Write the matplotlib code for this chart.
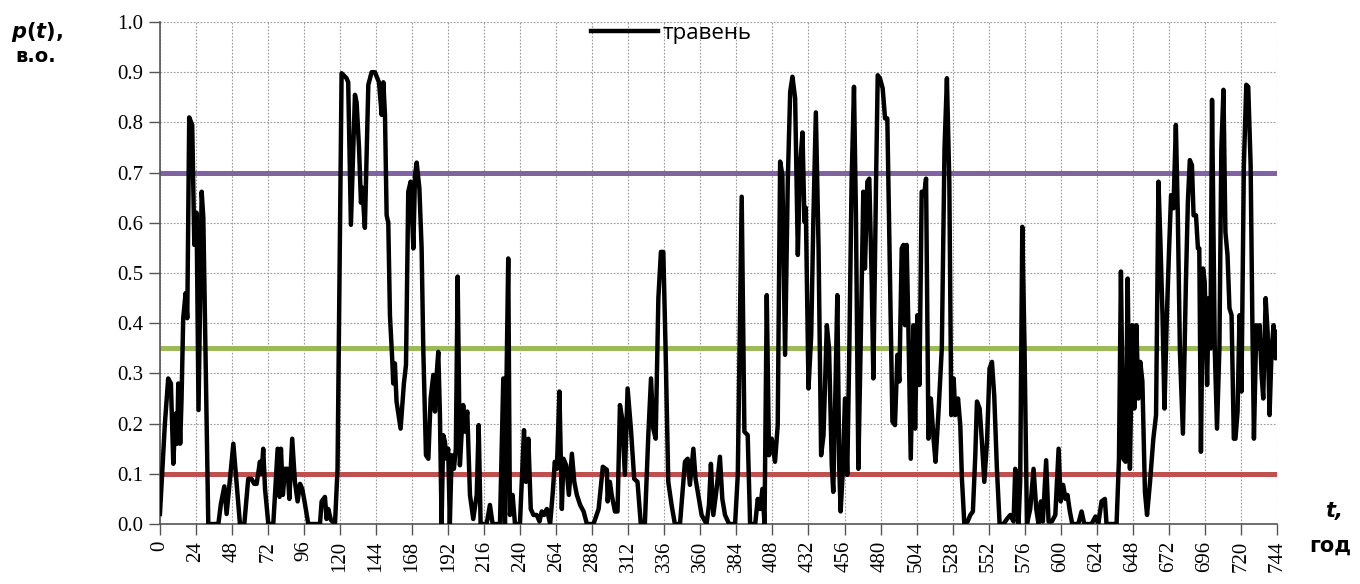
import matplotlib.pyplot as plt
import numpy as np

# hours of May and probability p(t)
t = [0, 3.3, 5.5, 7.3, 8.9, 10.4, 11.5, 12.2, 13.5, 14.4, 15.5, 17.1, 18.2, 19.5, 21.5, 22.9,
     24.4, 25.7, 27.8, 28.9, 32.2, 38.9, 40.6, 42.9, 44.4, 48.9, 51.1, 53.3, 56.2, 58.8, 61,
     62.8, 64.4, 66.6, 67.7, 68.8, 70, 72.2, 75.5, 78.4, 79.7, 80.6, 81.9, 83.3, 85, 86.2,
     88.1, 89.9, 91.7, 93.3, 94.8, 96.6, 98.8, 106.6, 107.7, 109.9, 111, 112.1, 113.9, 116.6,
     118.3, 121, 124.3, 125.4, 127.2, 129.9, 131, 132.6, 133.9, 134.8, 136.5, 138.8, 141,
     143.2, 145.9, 147.7, 148.8, 149.9, 151, 152.1, 153.2, 154.8, 155.4, 156.5, 157.6, 160.3,
     162.5, 163.9, 165.4, 167, 168.8, 169.9, 171, 172.8, 174.3, 175.4, 177.2, 178.8, 180.3,
     182.1, 183.2, 184.3, 185.4, 186.5, 187.6, 188.7, 189.8, 190.9, 192, 193.1, 194.3, 195.8,
     197.1, 198.3, 199.8, 202, 203.2, 204.7, 206.5, 208.7, 211, 212.3, 213.6, 217.6, 219.8,
     221.6, 226.5, 228.7, 229.8, 230.9, 232, 233.1, 234.9, 236.5, 239.8, 242.5, 243.8, 245.4,
     247, 248.8, 251, 252.8, 254.3, 255.9, 257.7, 259.9, 261.7, 263, 264.4, 266.1, 267.7,
     268.8, 270.6, 272.4, 274.4, 276, 277.7, 279.9, 282.2, 284.4, 288.8, 292.2, 295, 297.7,
     298.2, 299.7, 300.9, 303.1, 304.8, 306.4, 307.9, 309.7, 311.5, 313.7, 315.9, 318.1,
     320.3, 323, 325.3, 327.1, 328.6, 330.2, 332, 333.7, 335.3, 336.8, 338.6, 340.8, 343,
     346.4, 349.7, 351.5, 353, 355.3, 356.8, 358.6, 360.8, 364.1, 365.7, 367, 368.6, 370.8,
     373, 374.6, 376.4, 379.1, 383.1, 384.9, 386.4, 387.5, 389.3, 391.5, 393.1, 396.5, 398.2,
     399.8, 401.3, 402.7, 404.2, 405.7, 407.5, 409.7, 411.5, 413.1, 414.6, 416.4, 418.2,
     419.8, 421.3, 423.1, 424.9, 426.4, 428, 429.3, 430.2, 432, 433.8, 435.3, 436.9, 438.7,
     440.4, 442, 444.2, 445.7, 447.5, 448.5, 449.6, 451.2, 452.5, 453.4, 454.7, 456.3, 457.8,
     459.2, 460.7, 462.3, 463.6, 465.2, 466.7, 468.5, 469.6, 471.2, 472.5, 474.1, 475.2, 477,
     478.1, 479.6, 481.4, 483, 484.5, 486.3, 487.9, 489.6, 491.2, 492.5, 494.1, 495.2, 496.3,
     497.4, 498.5, 500.1, 501.9, 503, 504.5, 505.9, 507.4, 509, 510.3, 511.9, 513.5, 515.3,
     516.6, 518.6, 520.8, 522.6, 524.2, 525.8, 527.1, 528.7, 529.8, 531.6, 533.1, 534.2,
     535.8, 538, 539.8, 541.5, 543.1, 544.2, 546, 547.5, 549.1, 550.9, 552.6, 554.2, 555.7,
     557.5, 559.3, 561.9, 564.2, 566.4, 568.6, 569.7, 570.8, 571.9, 573, 574.4, 575.9, 577.5,
     579.7, 581.9, 583.7, 585.2, 586.8, 588.1, 590.3, 591.9, 594.1, 596.4, 598.6, 600, 601.6,
     603.2, 604.5, 606.1, 607.7, 611.7, 613.9, 615.7, 620.5, 623.2, 625, 627.2, 629.4, 630.5,
     637.2, 638.8, 640.1, 641.7, 643.2, 644.6, 646.1, 647.7, 649, 650.4, 651.7, 653, 654.4,
     656.1, 657.5, 659.5, 661.7, 663.5, 665.1, 666.4, 667.8, 669.1, 670.7, 672.2, 673.5,
     675.1, 676.7, 678, 679.4, 681.4, 683.4, 684.7, 686, 687.4, 688.5, 690.1, 691.4, 692.3,
     693.4, 694.8, 695.9, 697.5, 698.6, 699.7, 700.8, 702.6, 704.1, 705.7, 707, 708.4, 709.7,
     711.1, 712.4, 713.8, 715.3, 716.4, 717.8, 719.1, 720.4, 722, 723.6, 724.9, 726.5, 727.6,
     728.7, 730.3, 731.6, 732.5, 733.8, 734.9, 736.5, 737.8, 739.1, 740.5, 741.8, 743.1, 744]
p = [0.02, 0.2, 0.29, 0.28, 0.12, 0.22, 0.16, 0.28, 0.16, 0.25, 0.41, 0.46, 0.41, 0.81, 0.795, 0.556,
     0.62, 0.227, 0.662, 0.61, 0.0, 0.0, 0.04, 0.075, 0.02, 0.16, 0.08, 0.0, 0.0, 0.09, 0.09,
     0.08, 0.08, 0.124, 0.1, 0.15, 0.07, 0.0, 0.0, 0.15, 0.054, 0.15, 0.058, 0.11, 0.11, 0.05,
     0.17, 0.084, 0.045, 0.08, 0.07, 0.04, 0.0, 0.0, 0.045, 0.054, 0.01, 0.03, 0.008, 0.0,
     0.11, 0.898, 0.888, 0.88, 0.596, 0.855, 0.84, 0.75, 0.64, 0.67, 0.59, 0.875, 0.9,
     0.9, 0.88, 0.815, 0.88, 0.815, 0.615, 0.6, 0.416, 0.323, 0.28, 0.32, 0.244, 0.19,
     0.28, 0.317, 0.662, 0.682, 0.549, 0.695, 0.72, 0.669, 0.55, 0.35, 0.137, 0.13, 0.25,
     0.297, 0.224, 0.297, 0.343, 0.217, 0.0, 0.177, 0.164, 0.13, 0.15, 0.0, 0.137, 0.11,
     0.15, 0.493, 0.117, 0.237, 0.184, 0.224, 0.058, 0.01, 0.058, 0.197, 0.0, 0.0, 0.038,
     0.0, 0.0, 0.29, 0.0, 0.297, 0.529, 0.018, 0.058, 0.0, 0.0, 0.187, 0.084, 0.17,
     0.03, 0.018, 0.018, 0.005, 0.025, 0.018, 0.03, 0.0, 0.064, 0.124, 0.11, 0.264, 0.03,
     0.13, 0.117, 0.058, 0.14, 0.084, 0.058, 0.038, 0.025, 0.0, 0.0, 0.03, 0.114, 0.108,
     0.045, 0.084, 0.058, 0.025, 0.025, 0.237, 0.21, 0.098, 0.27, 0.19, 0.09, 0.084,
     0.0, 0.0, 0.177, 0.29, 0.19, 0.17, 0.45, 0.542, 0.542, 0.35, 0.084, 0.038, 0.0,
     0.0, 0.124, 0.13, 0.078, 0.15, 0.09, 0.058, 0.018, 0.0, 0.038, 0.12, 0.018, 0.07,
     0.134, 0.05, 0.018, 0.0, 0.0, 0.098, 0.416, 0.652, 0.184, 0.177, 0.0, 0.0, 0.05,
     0.03, 0.07, 0.0, 0.456, 0.137, 0.17, 0.124, 0.197, 0.722, 0.695, 0.337, 0.682,
     0.861, 0.891, 0.848, 0.536, 0.715, 0.78, 0.602, 0.63, 0.27, 0.376, 0.615, 0.82, 0.55,
     0.137, 0.177, 0.396, 0.35, 0.117, 0.064, 0.217, 0.456, 0.11, 0.025, 0.098, 0.25, 0.098,
     0.35, 0.682, 0.871, 0.615, 0.11, 0.35, 0.662, 0.509, 0.682, 0.688, 0.483, 0.29, 0.682,
     0.894, 0.888, 0.868, 0.808, 0.808, 0.483, 0.204, 0.197, 0.337, 0.284, 0.549, 0.556, 0.396,
     0.556, 0.396, 0.13, 0.396, 0.19, 0.416, 0.277, 0.662, 0.655, 0.688, 0.17, 0.25, 0.17,
     0.124, 0.224, 0.35, 0.748, 0.888, 0.682, 0.217, 0.29, 0.217, 0.25, 0.197, 0.09,
     0.0, 0.005, 0.018, 0.025, 0.137, 0.244, 0.23, 0.164, 0.084, 0.164, 0.31, 0.323, 0.257,
     0.11, 0.0, 0.0, 0.01, 0.018, 0.005, 0.11, 0.084, 0.0, 0.084, 0.592, 0.35, 0.0,
     0.03, 0.11, 0.03, 0.0, 0.045, 0.005, 0.127, 0.005, 0.005, 0.018, 0.15, 0.045, 0.078,
     0.05, 0.058, 0.025, 0.0, 0.0, 0.025, 0.0, 0.0, 0.015, 0.0, 0.045, 0.05, 0.0,
     0.0, 0.13, 0.503, 0.13, 0.124, 0.489, 0.11, 0.396, 0.23, 0.396, 0.25, 0.323, 0.284,
     0.064, 0.018, 0.084, 0.17, 0.217, 0.682, 0.562, 0.416, 0.23, 0.416, 0.549, 0.655,
     0.629, 0.795, 0.615, 0.343, 0.18, 0.483, 0.642, 0.725, 0.715, 0.615, 0.615, 0.549, 0.549,
     0.144, 0.509, 0.483, 0.277, 0.45, 0.35, 0.845, 0.35, 0.19, 0.35, 0.748, 0.865, 0.582,
     0.536, 0.43, 0.416, 0.17, 0.17, 0.224, 0.416, 0.264, 0.715, 0.875, 0.871, 0.715, 0.416,
     0.17, 0.396, 0.35, 0.396, 0.297, 0.25, 0.45, 0.383, 0.217, 0.35, 0.396, 0.33, 0.383]

# threshold levels
levels = [0.7, 0.35, 0.1]
level_colors = ['#8064A2', '#9BBB59', '#C0504D']

x_ticks = np.arange(0, 745, 24)
y_ticks = np.arange(0, 1.01, 0.1)

fig = plt.figure(figsize=(13.6, 5.84), dpi=100)
ax = fig.add_axes([0.1176, 0.1027, 0.8213, 0.8596])

for lev, col in zip(levels, level_colors):
    ax.axhline(lev, color=col, lw=3.6, zorder=2)

ax.plot(t, p, color='black', lw=3.2, solid_joinstyle='round', label='травень', zorder=3)

ax.set_xlim(0, 744)
ax.set_ylim(0, 1.0)
ax.set_xticks(x_ticks)
ax.set_yticks(y_ticks)
ax.set_xticklabels([str(v) for v in x_ticks], rotation=90, family='Liberation Serif', fontsize=15)
ax.set_yticklabels([f'{v:.1f}' for v in y_ticks], family='Liberation Serif', fontsize=15)
ax.grid(True, color='#9a9a9a', lw=0.8, linestyle=(0, (1.5, 1.5)))
ax.set_axisbelow(True)

for s in ['top', 'right']:
    ax.spines[s].set_visible(False)
for s in ['left', 'bottom']:
    ax.spines[s].set_color('#555555')
    ax.spines[s].set_linewidth(1.2)
ax.tick_params(axis='both', direction='out', length=8, width=1, color='#555555', pad=4)

ax.legend(loc='center left', bbox_to_anchor=(0.386, 0.978), frameon=False,
          borderpad=0, borderaxespad=0, handlelength=3.0, handletextpad=0.2,
          prop={'family': 'Open Sans', 'size': 16})

fig.text(0.008, 0.935, r'$\boldsymbol{p(t)}$,', fontsize=15, fontweight='bold', family='DejaVu Sans')
fig.text(0.011, 0.893, 'в.о.', fontsize=14, fontweight='bold', family='DejaVu Sans')
fig.text(0.974, 0.115, 't,', fontsize=15, fontweight='bold', fontstyle='italic', family='DejaVu Sans')
fig.text(0.963, 0.055, 'год', fontsize=15, fontweight='bold', family='DejaVu Sans')

fig.savefig('out.png', dpi=100)
